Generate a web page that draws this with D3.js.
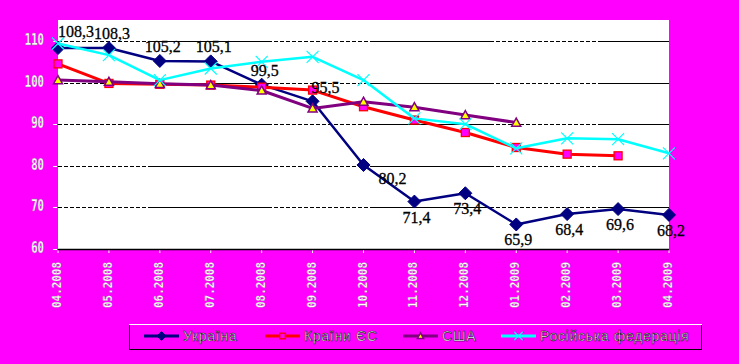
<!DOCTYPE html>
<html><head><meta charset="utf-8">
<script src="https://cdn.jsdelivr.net/npm/d3@7/dist/d3.min.js"></script>
<style>body{margin:0;background:#FF00FF;} svg{display:block;}</style>
</head><body>
<svg id="c" width="739" height="364"></svg>
<script>
const categories = ["04.2008","05.2008","06.2008","07.2008","08.2008","09.2008","10.2008","11.2008","12.2008","01.2009","02.2009","03.2009","04.2009"];
const ukraine = [108.3,108.3,105.2,105.1,99.5,95.5,80.2,71.4,73.4,65.9,68.4,69.6,68.2];
const eu      = [104.5,99.8,99.6,99.4,98.9,98.2,94.2,91.0,88.0,84.4,82.8,82.4,null];
const usa     = [100.6,100.2,99.7,99.4,98.1,93.8,95.4,94.1,92.2,90.4,null,null,null];
const russia  = [109.4,106.6,100.6,103.4,105.0,106.2,100.6,91.4,90.0,84.2,86.6,86.4,83.0];
const ukraineLabels = ["108,3","108,3","105,2","105,1","99,5","95,5","80,2","71,4","73,4","65,9","68,4","69,6","68,2"];
const labelPlace = ["aboveFirst","above","above","above","above","aboveRight","belowRight","below","below","below","below","below","below"];
const yTicks = [60,70,80,90,100,110];
const legendNames = ["Україна","Країни ЄС","США","Російська федерація"];

const svg = d3.select("#c");
const L = 58, R = 669, T = 20, B = 249;
const x = d3.scalePoint().domain(categories).range([L, R]);
const y = d3.scaleLinear().domain([60, 110]).range([B, 41]);

// plot area
svg.append("rect").attr("x", L).attr("y", T).attr("width", R - L).attr("height", B - T + 1).attr("fill", "#fff");

// gridline dash pattern (dashed / solid alternating runs)
function dashRun(len){ const a=[]; for(let i=0;i<Math.floor(len/6);i++){a.push(4,2);} return a; }
const dash = [].concat(dashRun(95),[120,0],dashRun(107),[120,0],dashRun(112),[120,0]).join(" ");
svg.append("g").selectAll("line").data(yTicks.filter(d => d > 60)).join("line")
  .attr("x1", L).attr("x2", R).attr("y1", d => Math.round(y(d)) + 0.5).attr("y2", d => Math.round(y(d)) + 0.5)
  .attr("stroke", "#000").attr("stroke-width", 1).attr("stroke-dasharray", dash);

// x axis
svg.append("line").attr("x1", L).attr("x2", R).attr("y1", B + 0.5).attr("y2", B + 0.5).attr("stroke", "#000").attr("stroke-width", 1.5);
svg.append("g").selectAll("line").data(categories).join("line")
  .attr("x1", d => x(d)).attr("x2", d => x(d)).attr("y1", B + 1.5).attr("y2", B + 4)
  .attr("stroke", "#fff").attr("stroke-width", 1);
svg.append("g").selectAll("text").data(categories).join("text")
  .attr("transform", d => `translate(${x(d) + 3},262) rotate(-90)`)
  .attr("text-anchor", "end")
  .attr("textLength", 46).attr("lengthAdjust", "spacingAndGlyphs")
  .attr("font-family", "DejaVu Sans Mono").attr("font-size", 13).attr("font-weight", "bold")
  .attr("fill", "#fff").attr("stroke", "#777").attr("stroke-width", 0.3)
  .text(d => d);

// y axis ticks & labels
svg.append("g").selectAll("line").data(yTicks).join("line")
  .attr("x1", 53).attr("x2", 57).attr("y1", d => Math.round(y(d)) + 0.5).attr("y2", d => Math.round(y(d)) + 0.5)
  .attr("stroke", "#fff");
svg.append("g").selectAll("text").data(yTicks).join("text")
  .attr("x", 44).attr("y", d => y(d) + 4)
  .attr("text-anchor", "end")
  .attr("textLength", d => String(d).length * 6.4).attr("lengthAdjust", "spacingAndGlyphs")
  .attr("font-family", "DejaVu Sans Mono").attr("font-size", 15).attr("font-weight", "bold")
  .attr("fill", "#fff").attr("stroke", "#777").attr("stroke-width", 0.3)
  .text(d => d);

const seriesList = [
  {name: legendNames[0], vals: ukraine, color: "#000080", w: 2.5, marker: "diamond"},
  {name: legendNames[1], vals: eu, color: "#FF0000", w: 3, marker: "square"},
  {name: legendNames[2], vals: usa, color: "#800080", w: 3, marker: "triangle"},
  {name: legendNames[3], vals: russia, color: "#00FFFF", w: 2.5, marker: "x"}
];

function drawMarker(g, type, cx, cy, color, scale){
  const s = scale || 1;
  if (type === "diamond") {
    const h = 6.5 * s;
    g.append("path").attr("d", `M${cx},${cy - h}L${cx + h},${cy}L${cx},${cy + h}L${cx - h},${cy}Z`)
      .attr("fill", color).attr("stroke", color).attr("stroke-width", 1);
  } else if (type === "square") {
    const h = 4 * s;
    g.append("rect").attr("x", cx - h).attr("y", cy - h).attr("width", 2 * h).attr("height", 2 * h)
      .attr("fill", "#FF00FF").attr("stroke", "#FF0000").attr("stroke-width", 1.3);
  } else if (type === "triangle") {
    const h = 4.5 * s;
    g.append("path").attr("d", `M${cx},${cy - h}L${cx + h},${cy + h * 0.8}L${cx - h},${cy + h * 0.8}Z`)
      .attr("fill", "#FFFF00").attr("stroke", "#800080").attr("stroke-width", 1.5);
  } else if (type === "x") {
    const h = 6 * s;
    g.append("path").attr("d", `M${cx - h},${cy - h}L${cx + h},${cy + h}M${cx - h},${cy + h}L${cx + h},${cy - h}`)
      .attr("stroke", "#00FFFF").attr("stroke-width", 1.2);
  }
}

seriesList.forEach(s => {
  const pts = categories.map((c, i) => ({c, v: s.vals[i]})).filter(p => p.v != null);
  const line = d3.line().x(p => x(p.c)).y(p => y(p.v));
  svg.append("path").datum(pts).attr("d", line).attr("fill", "none")
    .attr("stroke", s.color).attr("stroke-width", s.w).attr("stroke-linejoin", "round");
  const g = svg.append("g");
  pts.forEach(p => drawMarker(g, s.marker, x(p.c), y(p.v), s.color));
});

// Ukraine data labels
const off = {
  aboveFirst: [18, -11], above: [3, -9], aboveRight: [13, -8],
  belowRight: [29, 19], below: [2, 21]
};
svg.append("g").selectAll("text").data(ukraine).join("text")
  .attr("x", (d, i) => x(categories[i]) + off[labelPlace[i]][0])
  .attr("y", (d, i) => y(d) + off[labelPlace[i]][1])
  .attr("text-anchor", "middle")
  .attr("font-family", "Liberation Serif").attr("font-size", 16)
  .attr("fill", "#000").attr("stroke", "#000").attr("stroke-width", 0.3)
  .text((d, i) => ukraineLabels[i]);

// legend
const lg = svg.append("g");
lg.append("rect").attr("x", 129.5).attr("y", 324.5).attr("width", 572).attr("height", 25)
  .attr("fill", "#FF00FF").attr("stroke", "#000").attr("stroke-width", 1);
lg.append("line").attr("x1", 129).attr("x2", 702).attr("y1", 324.5).attr("y2", 324.5).attr("stroke", "#fff");
const legX = [144, 265, 403, 501];
seriesList.forEach((s, i) => {
  const x0 = legX[i], ly = 336;
  lg.append("line").attr("x1", x0).attr("x2", x0 + 35).attr("y1", ly).attr("y2", ly)
    .attr("stroke", s.color).attr("stroke-width", 3);
  drawMarker(lg, s.marker, x0 + 17.5, ly, s.color, 0.7);
  lg.append("text").attr("x", x0 + 39).attr("y", ly + 5)
    .attr("font-family", "Liberation Sans").attr("font-size", 14).attr("letter-spacing", 0.7)
    .attr("fill", "#fff").attr("stroke", "#000").attr("stroke-width", 0.5)
    .text(s.name);
});
</script>
</body></html>
